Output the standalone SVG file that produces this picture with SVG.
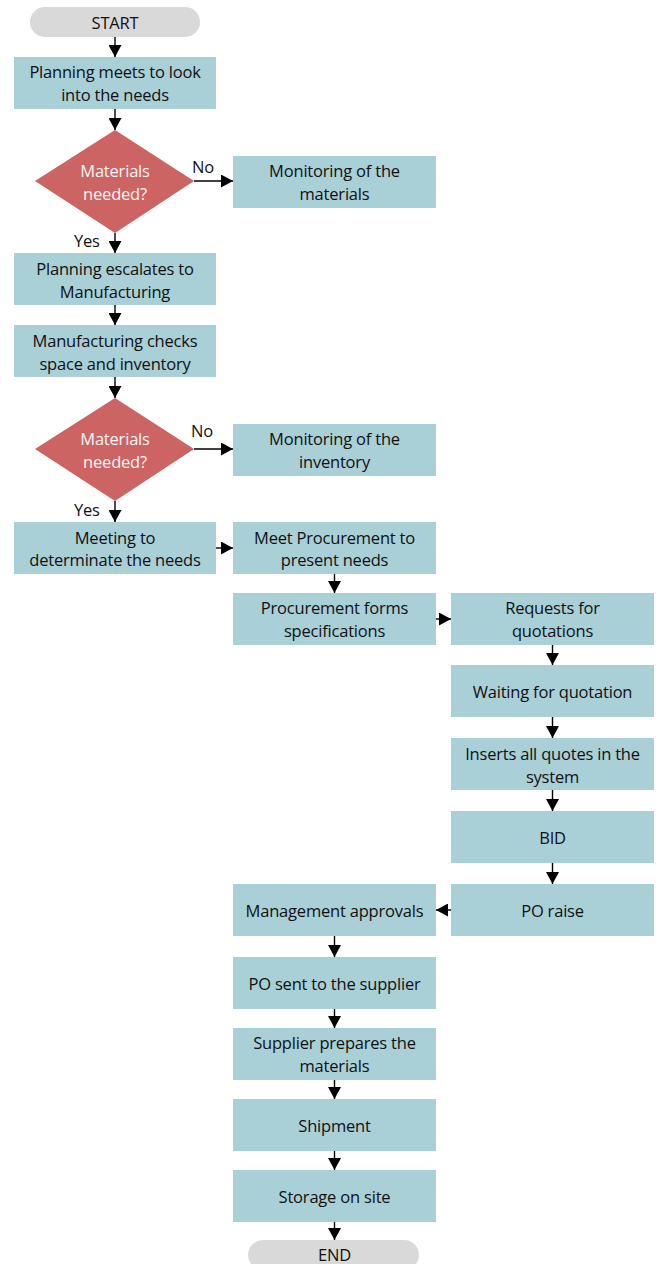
<svg xmlns="http://www.w3.org/2000/svg" width="661" height="1264" viewBox="0 0 661 1264">
  <style>
    .box { fill: #A9CFD7; }
    .term { fill: #D9D9D9; }
    .dec { fill: #CD6464; }
    text { font-family: "Open Sans", "Liberation Sans", sans-serif; font-size: 16.5px; fill: #111; text-anchor: middle; dominant-baseline: central; letter-spacing: -0.2px; }
    .dec-t { fill: #F4F4F4; }
    .lbl { text-anchor: start; }
    .conn line { stroke: #000; stroke-width: 1.4; marker-end: url(#ah); }
  </style>
  <defs>
    <marker id="ah" markerUnits="userSpaceOnUse" markerWidth="12" markerHeight="13" viewBox="0 0 12 13" refX="12" refY="6.5" orient="auto">
      <path d="M0,0 L12,6.5 L0,13 z" fill="#000"/>
    </marker>
  </defs>

  <rect width="661" height="1264" fill="#fff"/>

  <!-- connectors -->
  <g class="conn" id="connectors">
    <line x1="115" y1="37" x2="115" y2="57"/>
    <line x1="115" y1="109" x2="115" y2="130"/>
    <line x1="194" y1="181" x2="233" y2="181"/>
    <line x1="115" y1="233" x2="115" y2="253"/>
    <line x1="115" y1="305" x2="115" y2="325"/>
    <line x1="115" y1="377" x2="115" y2="398"/>
    <line x1="194" y1="449" x2="233" y2="449"/>
    <line x1="115" y1="501" x2="115" y2="522"/>
    <line x1="216" y1="548" x2="233" y2="548"/>
    <line x1="334.5" y1="574" x2="334.5" y2="593"/>
    <line x1="436" y1="619" x2="451" y2="619"/>
    <line x1="552.5" y1="645" x2="552.5" y2="665"/>
    <line x1="552.5" y1="717" x2="552.5" y2="738"/>
    <line x1="552.5" y1="790" x2="552.5" y2="811"/>
    <line x1="552.5" y1="863" x2="552.5" y2="884"/>
    <line x1="451" y1="910" x2="436" y2="910"/>
    <line x1="334.5" y1="936" x2="334.5" y2="957"/>
    <line x1="334.5" y1="1009" x2="334.5" y2="1028"/>
    <line x1="334.5" y1="1080" x2="334.5" y2="1099"/>
    <line x1="334.5" y1="1151" x2="334.5" y2="1170"/>
    <line x1="334.5" y1="1222" x2="334.5" y2="1240"/>
  </g>

  <!-- branch labels -->
  <g id="labels">
    <text class="lbl" x="192" y="166">No</text>
    <text class="lbl" x="74" y="240">Yes</text>
    <text class="lbl" x="191" y="430">No</text>
    <text class="lbl" x="74" y="509">Yes</text>
  </g>

  <g id="start">
    <rect class="term" x="30" y="7" width="170" height="30" rx="15"/>
    <text x="115" y="22">START</text>
  </g>

  <g id="planning-meets">
    <rect class="box" x="14" y="57" width="202" height="52"/>
    <text x="115" y="71">Planning meets to look</text>
    <text x="115" y="94">into the needs</text>
  </g>

  <g id="decision-1">
    <polygon class="dec" points="115,130 194,181 115,233 35,181"/>
    <text class="dec-t" x="115" y="170">Materials</text>
    <text class="dec-t" x="115" y="193">needed?</text>
  </g>

  <g id="monitor-materials">
    <rect class="box" x="233" y="156" width="203" height="52"/>
    <text x="334.5" y="170">Monitoring of the</text>
    <text x="334.5" y="193">materials</text>
  </g>

  <g id="planning-escalates">
    <rect class="box" x="14" y="253" width="202" height="52"/>
    <text x="115" y="268">Planning escalates to</text>
    <text x="115" y="291">Manufacturing</text>
  </g>

  <g id="manufacturing-checks">
    <rect class="box" x="14" y="325" width="202" height="52"/>
    <text x="115" y="340">Manufacturing checks</text>
    <text x="115" y="363">space and inventory</text>
  </g>

  <g id="decision-2">
    <polygon class="dec" points="115,398 194,449 115,501 35,449"/>
    <text class="dec-t" x="115" y="438">Materials</text>
    <text class="dec-t" x="115" y="461">needed?</text>
  </g>

  <g id="monitor-inventory">
    <rect class="box" x="233" y="424" width="203" height="52"/>
    <text x="334.5" y="438">Monitoring of the</text>
    <text x="334.5" y="461">inventory</text>
  </g>

  <g id="meeting-needs">
    <rect class="box" x="14" y="522" width="202" height="52"/>
    <text x="115" y="537">Meeting to</text>
    <text x="115" y="559">determinate the needs</text>
  </g>

  <g id="meet-procurement">
    <rect class="box" x="233" y="522" width="203" height="52"/>
    <text x="334.5" y="537">Meet Procurement to</text>
    <text x="334.5" y="559">present needs</text>
  </g>

  <g id="procurement-specs">
    <rect class="box" x="233" y="593" width="203" height="52"/>
    <text x="334.5" y="607">Procurement forms</text>
    <text x="334.5" y="630">specifications</text>
  </g>

  <g id="requests-quotations">
    <rect class="box" x="451" y="593" width="203" height="52"/>
    <text x="552.5" y="607">Requests for</text>
    <text x="552.5" y="630">quotations</text>
  </g>

  <g id="waiting-quotation">
    <rect class="box" x="451" y="665" width="203" height="52"/>
    <text x="552.5" y="691">Waiting for quotation</text>
  </g>

  <g id="inserts-quotes">
    <rect class="box" x="451" y="738" width="203" height="52"/>
    <text x="552.5" y="753">Inserts all quotes in the</text>
    <text x="552.5" y="776">system</text>
  </g>

  <g id="bid">
    <rect class="box" x="451" y="811" width="203" height="52"/>
    <text x="552.5" y="837">BID</text>
  </g>

  <g id="po-raise">
    <rect class="box" x="451" y="884" width="203" height="52"/>
    <text x="552.5" y="910">PO raise</text>
  </g>

  <g id="management-approvals">
    <rect class="box" x="233" y="884" width="203" height="52"/>
    <text x="334.5" y="910">Management approvals</text>
  </g>

  <g id="po-sent">
    <rect class="box" x="233" y="957" width="203" height="52"/>
    <text x="334.5" y="983">PO sent to the supplier</text>
  </g>

  <g id="supplier-prepares">
    <rect class="box" x="233" y="1028" width="203" height="52"/>
    <text x="334.5" y="1042">Supplier prepares the</text>
    <text x="334.5" y="1065">materials</text>
  </g>

  <g id="shipment">
    <rect class="box" x="233" y="1099" width="203" height="52"/>
    <text x="334.5" y="1125">Shipment</text>
  </g>

  <g id="storage">
    <rect class="box" x="233" y="1170" width="203" height="52"/>
    <text x="334.5" y="1196">Storage on site</text>
  </g>

  <g id="end">
    <rect class="term" x="248" y="1240" width="171" height="30" rx="15"/>
    <text x="334.5" y="1254">END</text>
  </g>
</svg>
